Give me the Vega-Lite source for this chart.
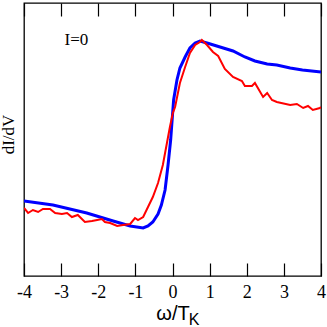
{
  "$schema": "https://vega.github.io/schema/vega-lite/v6.json",
  "autosize": "none",
  "width": 297,
  "height": 273,
  "padding": {"left": 24, "top": 3, "right": 6, "bottom": 51},
  "background": "white",
  "config": {
    "view": {"stroke": "black", "strokeWidth": 1.3},
    "axis": {"grid": false, "domain": false}
  },
  "datasets": {
    "red": [
      {"w": -4.0, "v": 68}, {"w": -3.89, "v": 63}, {"w": -3.76, "v": 66}, {"w": -3.62, "v": 64},
      {"w": -3.49, "v": 67}, {"w": -3.30, "v": 67}, {"w": -3.16, "v": 63}, {"w": -2.98, "v": 62},
      {"w": -2.84, "v": 63}, {"w": -2.71, "v": 59}, {"w": -2.55, "v": 61}, {"w": -2.36, "v": 54},
      {"w": -2.17, "v": 55}, {"w": -2.03, "v": 56}, {"w": -1.90, "v": 57}, {"w": -1.82, "v": 54},
      {"w": -1.68, "v": 53}, {"w": -1.49, "v": 50}, {"w": -1.33, "v": 51}, {"w": -1.14, "v": 52},
      {"w": -1.01, "v": 58}, {"w": -0.93, "v": 56}, {"w": -0.79, "v": 59}, {"w": -0.66, "v": 69},
      {"w": -0.53, "v": 79}, {"w": -0.39, "v": 93}, {"w": -0.26, "v": 111}, {"w": -0.15, "v": 133},
      {"w": -0.07, "v": 149}, {"w": 0.01, "v": 163}, {"w": 0.07, "v": 169}, {"w": 0.20, "v": 193},
      {"w": 0.34, "v": 209}, {"w": 0.47, "v": 223}, {"w": 0.61, "v": 231}, {"w": 0.74, "v": 234},
      {"w": 0.79, "v": 236}, {"w": 0.93, "v": 231}, {"w": 1.09, "v": 224}, {"w": 1.23, "v": 220},
      {"w": 1.41, "v": 207}, {"w": 1.63, "v": 199}, {"w": 1.87, "v": 195}, {"w": 1.95, "v": 190},
      {"w": 2.14, "v": 190}, {"w": 2.22, "v": 193}, {"w": 2.44, "v": 179}, {"w": 2.55, "v": 183},
      {"w": 2.68, "v": 176}, {"w": 2.81, "v": 174}, {"w": 3.17, "v": 171}, {"w": 3.35, "v": 172},
      {"w": 3.52, "v": 168}, {"w": 3.65, "v": 170}, {"w": 3.78, "v": 166}, {"w": 3.97, "v": 168},
      {"w": 4.0, "v": 169}
    ],
    "blue": [
      {"w": -4.0, "v": 75}, {"w": -3.22, "v": 71}, {"w": -2.31, "v": 63}, {"w": -1.60, "v": 55},
      {"w": -1.14, "v": 50}, {"w": -0.79, "v": 48}, {"w": -0.66, "v": 50}, {"w": -0.53, "v": 54},
      {"w": -0.39, "v": 62}, {"w": -0.30, "v": 71}, {"w": -0.20, "v": 86}, {"w": -0.12, "v": 111},
      {"w": -0.05, "v": 136}, {"w": 0.0, "v": 161}, {"w": 0.03, "v": 176}, {"w": 0.12, "v": 196},
      {"w": 0.20, "v": 208}, {"w": 0.34, "v": 219}, {"w": 0.47, "v": 228}, {"w": 0.61, "v": 233},
      {"w": 0.74, "v": 235}, {"w": 0.93, "v": 233}, {"w": 1.28, "v": 229}, {"w": 1.63, "v": 225},
      {"w": 1.95, "v": 219}, {"w": 2.22, "v": 215}, {"w": 2.55, "v": 212}, {"w": 2.81, "v": 211},
      {"w": 3.17, "v": 208}, {"w": 3.5, "v": 206}, {"w": 4.0, "v": 204}
    ],
    "label": [{"w": -2.59, "v": 236, "t": "I=0"}]
  },
  "resolve": {"axis": {"x": "independent", "y": "independent"}},
  "layer": [
    {
      "data": {"name": "blue"},
      "mark": {"type": "line", "color": "#0000ff", "strokeWidth": 3, "clip": true},
      "encoding": {
        "x": {
          "field": "w", "type": "quantitative",
          "scale": {"domain": [-4, 4], "nice": false, "zero": false},
          "axis": {
            "orient": "top", "values": [-4, -3, -2, -1, 0, 1, 2, 3, 4],
            "labels": false, "tickSize": -13, "tickColor": "black", "tickWidth": 1.2,
            "title": "K", "titleFont": "Liberation Sans", "titleFontSize": 16,
            "titleFontWeight": "normal", "titleColor": "black",
            "titleX": 169.5, "titleY": 321, "titleBaseline": "alphabetic", "titleAlign": "center", "titleAngle": 0
          }
        },
        "y": {
          "field": "v", "type": "quantitative",
          "scale": {"domain": [0, 273], "nice": false, "zero": false},
          "axis": {
            "orient": "left", "ticks": false, "labels": false,
            "title": "dI/dV", "titleFont": "Liberation Serif", "titleFontSize": 17,
            "titleFontWeight": "normal", "titleColor": "black", "titlePadding": 7,
            "titleY": 131
          }
        }
      }
    },
    {
      "data": {"name": "red"},
      "mark": {"type": "line", "color": "#ff0000", "strokeWidth": 2, "clip": true},
      "encoding": {
        "x": {
          "field": "w", "type": "quantitative",
          "scale": {"domain": [-4, 4], "nice": false, "zero": false},
          "axis": {
            "orient": "bottom", "values": [-4, -3, -2, -1, 0, 1, 2, 3, 4],
            "tickSize": -13, "tickColor": "black", "tickWidth": 1.2,
            "labelExpr": "datum.value < 0 ? '-' + abs(datum.value) : '' + datum.value",
            "labelFont": "Liberation Serif", "labelFontSize": 18, "labelColor": "black",
            "labelPadding": 20, "labelFlush": false,
            "title": "ω/T", "titleFont": "Liberation Sans", "titleFontSize": 20,
            "titleFontWeight": "normal", "titleColor": "black", "titlePadding": 2
          }
        },
        "y": {
          "field": "v", "type": "quantitative",
          "axis": null
        }
      }
    },
    {
      "data": {"name": "label"},
      "mark": {"type": "text", "font": "Liberation Serif", "fontSize": 17, "color": "black", "align": "center", "baseline": "middle"},
      "encoding": {
        "x": {"field": "w", "type": "quantitative", "axis": null},
        "y": {"field": "v", "type": "quantitative", "axis": null},
        "text": {"field": "t"}
      }
    }
  ]
}
